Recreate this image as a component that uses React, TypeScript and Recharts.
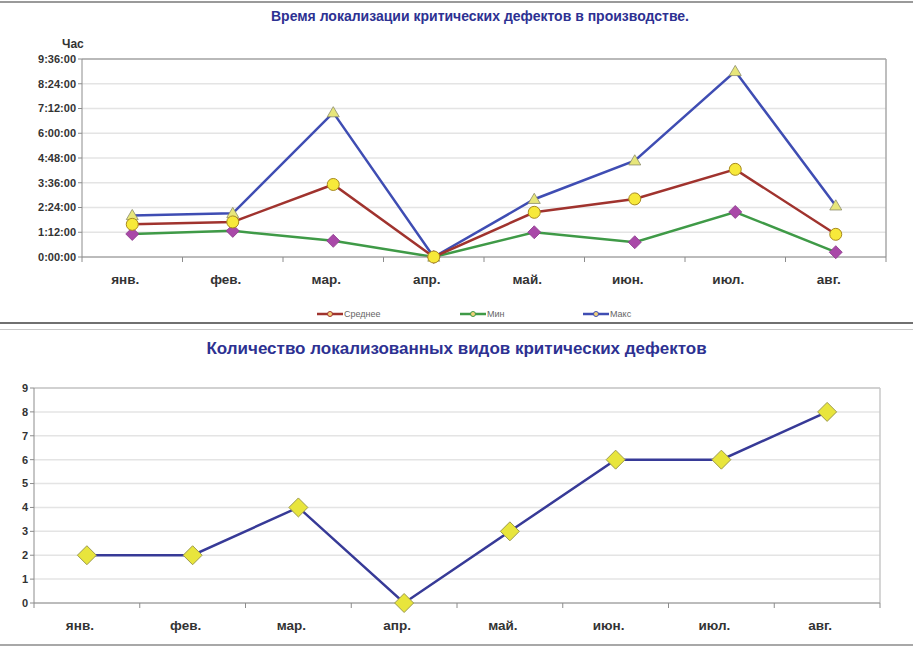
import React from 'react';
import { LineChart, Line, XAxis, YAxis, CartesianGrid, ReferenceLine } from 'recharts';

const months = ['янв.', 'фев.', 'мар.', 'апр.', 'май.', 'июн.', 'июл.', 'авг.'];
// minutes
const avgMinutes = [95, 102, 211, 0, 130, 169, 255, 66];
const minMinutes = [67, 76, 47, 0, 72, 43, 131, 14];
const maxMinutes = [121, 127, 420, 0, 168, 280, 540, 149];
const timeTicks = [0, 72, 144, 216, 288, 360, 432, 504, 576];
const counts = [2, 2, 4, 0, 3, 6, 6, 8];
const countTicks = [0, 1, 2, 3, 4, 5, 6, 7, 8, 9];
const bandTicks = [0, 1, 2, 3, 4, 5, 6, 7, 8];

const legendItems = [
  { name: 'Среднее', color: '#A0332E' },
  { name: 'Мин', color: '#3F9A47' },
  { name: 'Макс', color: '#3F4DB3' },
];

const topData = months.map((m, i) => ({
  pos: i + 0.5,
  month: m,
  avg: avgMinutes[i],
  min: minMinutes[i],
  max: maxMinutes[i],
}));

const bottomData = months.map((m, i) => ({ pos: i + 0.5, month: m, count: counts[i] }));

const FONT = '"Liberation Sans", Arial, sans-serif';
const NAVY = '#2D3192';

const fmtTime = (v: number) => {
  const h = Math.floor(v / 60);
  const m = v % 60;
  return `${h}:${m < 10 ? '0' + m : m}:00`;
};

const makeTick = (halfBand: number) => (props: any) => {
  const { x, y, payload } = props;
  const label = months[payload.value];
  if (!label) return <g />;
  return (
    <text
      x={x + halfBand - 7}
      y={y + 20}
      textAnchor="middle"
      fontFamily={FONT}
      fontWeight="bold"
      fontSize={13.5}
      fill="#333"
    >
      {label}
    </text>
  );
};

const Circle = (props: any) => {
  const { cx, cy, index } = props;
  return <circle key={`c${index}`} cx={cx} cy={cy} r={6} fill="#F7E93A" stroke="#A88A1E" strokeWidth={1} />;
};
const Diamond = (props: any) => {
  const { cx, cy, index } = props;
  const s = 6.5;
  return (
    <polygon
      key={`d${index}`}
      points={`${cx},${cy - s} ${cx + s},${cy} ${cx},${cy + s} ${cx - s},${cy}`}
      fill="#A948A8"
      stroke="#8A3A8A"
      strokeWidth={0.8}
    />
  );
};
const Triangle = (props: any) => {
  const { cx, cy, index } = props;
  const s = 6;
  return (
    <polygon
      key={`t${index}`}
      points={`${cx},${cy - s} ${cx + s},${cy + s * 0.7} ${cx - s},${cy + s * 0.7}`}
      fill="#E7E67A"
      stroke="#8C8C6A"
      strokeWidth={0.8}
    />
  );
};
const BigDiamond = (props: any) => {
  const { cx, cy, index } = props;
  const s = 9.5;
  return (
    <polygon
      key={`b${index}`}
      points={`${cx},${cy - s} ${cx + s},${cy} ${cx},${cy + s} ${cx - s},${cy}`}
      fill="#E8E53C"
      stroke="#9C9A4E"
      strokeWidth={1}
    />
  );
};

const axisStroke = '#8C8C8C';
const yTickStyle = { fontFamily: FONT, fontWeight: 'bold' as const, fontSize: 11, fill: '#333' };

export default function App() {
  return (
    <div style={{ position: 'absolute', left: 0, top: 0, width: 913, height: 653, background: '#fff', fontFamily: FONT }}>
      <div style={{ position: 'absolute', left: 0, top: 1, width: 913, height: 2, background: '#9A9A9A' }} />
      <div
        style={{
          position: 'absolute', left: 0, top: 8, width: 960, textAlign: 'center',
          fontWeight: 'bold', fontSize: 14, color: NAVY,
        }}
      >
        Время локализации критических дефектов в производстве.
      </div>
      <div style={{ position: 'absolute', left: 62, top: 37, fontWeight: 'bold', fontSize: 12, color: '#333' }}>Час</div>

      <div style={{ position: 'absolute', left: 0, top: 0 }}>
        <LineChart width={913} height={322} data={topData} margin={{ top: 59, right: 27, left: 0, bottom: 35 }}>
          <CartesianGrid vertical={false} stroke="#E4E4E4" strokeWidth={1.5} />
          <XAxis
            dataKey="pos"
            type="number"
            domain={[0, 8]}
            ticks={bandTicks}
            interval={0}
            height={30}
            stroke={axisStroke}
            tickSize={5}
            tick={makeTick(50.25)}
          />
          <YAxis
            type="number"
            domain={[0, 576]}
            ticks={timeTicks}
            interval={0}
            width={82}
            stroke={axisStroke}
            tickSize={4}
            tickFormatter={fmtTime}
            tick={yTickStyle}
          />
          <ReferenceLine x={8} stroke="#A8A8A8" strokeWidth={1.5} />
          <ReferenceLine y={576} stroke="#A8A8A8" strokeWidth={1.5} />
          <Line dataKey="max" stroke="#3F4DB3" strokeWidth={2.5} dot={Triangle} isAnimationActive={false} />
          <Line dataKey="min" stroke="#3F9A47" strokeWidth={2.5} dot={Diamond} isAnimationActive={false} />
          <Line dataKey="avg" stroke="#A0332E" strokeWidth={2.5} dot={Circle} isAnimationActive={false} />
        </LineChart>
      </div>

      {legendItems.map((it, i) => (
        <div
          key={it.name}
          style={{
            position: 'absolute', left: [317, 460, 583][i], top: 307, height: 14,
            display: 'flex', alignItems: 'center', fontSize: 9, color: '#666',
          }}
        >
          <svg width={26} height={10} style={{ marginRight: 1 }}>
            <line x1={0} y1={5} x2={26} y2={5} stroke={it.color} strokeWidth={2.5} />
            <circle cx={13} cy={5} r={2.5} fill="#F2D27A" stroke={it.color} strokeWidth={1} />
          </svg>
          <span>{it.name}</span>
        </div>
      ))}

      <div style={{ position: 'absolute', left: 0, top: 322, width: 913, height: 2, background: '#707070' }} />
      <div style={{ position: 'absolute', left: 0, top: 329, width: 913, height: 1, background: '#C8C8C8' }} />

      <div
        style={{
          position: 'absolute', left: 0, top: 339, width: 913, textAlign: 'center',
          fontWeight: 'bold', fontSize: 17, color: NAVY,
        }}
      >
        Количество локализованных видов критических дефектов
      </div>

      <div style={{ position: 'absolute', left: 0, top: 330 }}>
        <LineChart width={913} height={315} data={bottomData} margin={{ top: 58, right: 33, left: 0, bottom: 12 }}>
          <CartesianGrid vertical={false} stroke="#E4E4E4" strokeWidth={1.5} />
          <XAxis
            dataKey="pos"
            type="number"
            domain={[0, 8]}
            ticks={bandTicks}
            interval={0}
            height={30}
            stroke={axisStroke}
            tickSize={5}
            tick={makeTick(52.9)}
          />
          <YAxis
            type="number"
            domain={[0, 9]}
            ticks={countTicks}
            interval={0}
            width={34}
            stroke={axisStroke}
            tickSize={4}
            tick={yTickStyle}
          />
          <ReferenceLine x={8} stroke="#C8C8C8" strokeWidth={1.5} />
          <ReferenceLine y={9} stroke="#C8C8C8" strokeWidth={1.5} />
          <Line dataKey="count" stroke="#373A97" strokeWidth={2.5} dot={BigDiamond} isAnimationActive={false} />
        </LineChart>
      </div>

      <div style={{ position: 'absolute', left: 0, top: 644, width: 913, height: 2, background: '#A8A8A8' }} />
    </div>
  );
}
